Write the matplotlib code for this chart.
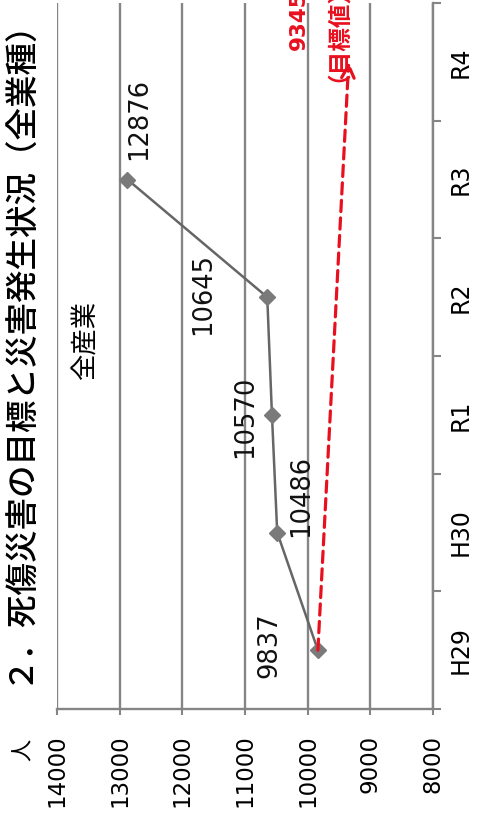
import matplotlib
matplotlib.use('Agg')
import matplotlib.pyplot as plt

# ---- data ----
categories = ['H29', 'H30', 'R1', 'R2', 'R3', 'R4']
casualties = [9837, 10486, 10570, 10645, 12876]
target_value = 9345
value_ticks = [14000, 13000, 12000, 11000, 10000, 9000, 8000]
title_text = '２．死傷災害の目標と災害発生状況（全業種）'
series_name = '全産業'
unit_text = '人'
target_note = '（目標値）'

# ---- style ----
CJK = ['Noto Sans CJK JP', 'DejaVu Sans']
plt.rcParams['font.family'] = ['DejaVu Sans', 'Noto Sans CJK JP']
GRID = '#858585'
LINE = '#666666'
MARK = '#7a7a7a'
RED = '#e8101e'

W, H = 485, 824
fig = plt.figure(figsize=(W / 100, H / 100), dpi=100)
# chart is laid out turned on its side: values run right-to-left, categories bottom-to-top
ax = fig.add_axes([57 / W, 1 - 709 / H, (433 - 57) / W, (709 - 3) / H])

ax.set_xlim(14000, 8000)
ax.set_ylim(-0.5, len(categories) - 0.5)

ax.set_xticks(value_ticks)
ax.set_xticklabels([str(v) for v in value_ticks], rotation=90, fontsize=16.5)
ax.tick_params(axis='x', direction='out', length=4.5, width=1.5, color=GRID, pad=14)
ax.grid(axis='x', color=GRID, lw=1.7)
ax.set_axisbelow(True)

ax.yaxis.tick_right()
ax.set_yticks(range(len(categories)))
ax.set_yticklabels(categories, rotation=90, fontsize=17, va='center')
ax.tick_params(axis='y', which='major', length=0, pad=11)
ax.set_yticks([i - 0.5 for i in range(len(categories) + 1)], minor=True)
ax.tick_params(axis='y', which='minor', direction='out', length=5.5, width=1.5, color=GRID)

for side in ('top', 'left'):
    ax.spines[side].set_visible(False)
for side in ('bottom', 'right'):
    ax.spines[side].set_color(GRID)
    ax.spines[side].set_linewidth(1.7)

# actual counts
idx = list(range(len(casualties)))
ax.plot(casualties, idx, color=LINE, lw=1.8, marker='D', ms=8.5,
        mfc=MARK, mec=MARK, zorder=3)

label_offsets = [(-34.6, 3.6), (17.3, 26.6), (-19.4, -1.4), (-46.0, 2.2), (8.6, 43.9)]
for i, (v, off) in enumerate(zip(casualties, label_offsets)):
    ax.annotate(str(v), xy=(v, i), xytext=off, textcoords='offset points',
                rotation=90, ha='center', va='center', fontsize=18.5, color='#111111')

# target arrow from the first year's result to the final-year goal
ti = len(categories) - 1
ax.annotate('', xy=(target_value, ti), xytext=(casualties[0], 0),
            arrowprops=dict(arrowstyle='->,head_length=0.9,head_width=0.45',
                            color=RED, lw=2.3, linestyle=(0, (3.5, 2)),
                            shrinkA=0, shrinkB=0),
            zorder=4, annotation_clip=False)
ax.annotate(str(target_value), xy=(target_value, ti), xytext=(-36, 30),
            textcoords='offset points', rotation=90, ha='center', va='center',
            fontsize=15.5, fontweight='bold', color=RED, annotation_clip=False)
ax.annotate(target_note, xy=(target_value, ti), xytext=(-16.6, 28),
            textcoords='offset points', rotation=90, ha='center', va='center',
            fontsize=17, fontweight='bold', color=RED, family=CJK,
            annotation_clip=False)

# series name, unit and title
fig.text(86 / W, 1 - 340 / H, series_name, rotation=90,
         ha='center', va='center', fontsize=19, family=CJK)
fig.text(23 / W, 1 - 750 / H, unit_text, rotation=90, ha='center', va='center',
         fontsize=16, family=CJK)
fig.text(19 / W, 1 - 684 / H, title_text, rotation=90, ha='center', va='bottom',
         fontsize=23.4, fontweight='medium', family=CJK)

fig.savefig('out.png', dpi=100)
